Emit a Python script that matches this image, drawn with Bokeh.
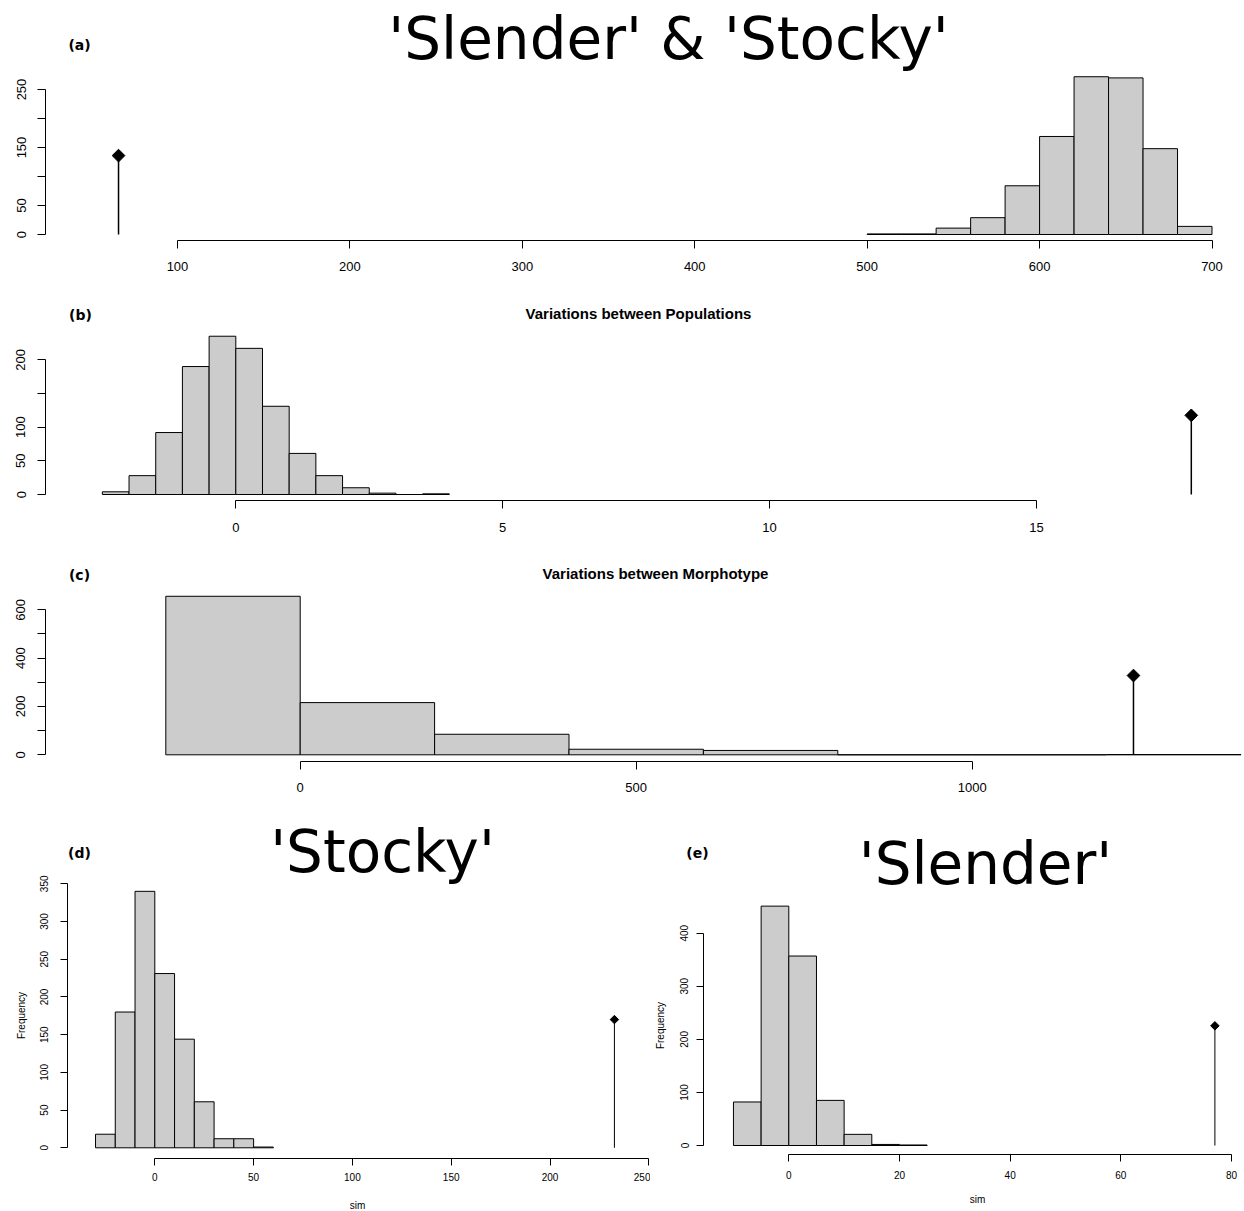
import math
from bokeh.plotting import figure
from bokeh.models import FixedTicker, Range1d, LinearAxis
from bokeh.core.properties import value
from bokeh.layouts import column, row
from bokeh.embed import file_html
from bokeh.resources import INLINE

# ---------------- data ----------------
# (a) 'Slender' & 'Stocky'
a_edges = [500, 520, 540, 560, 580, 600, 620, 640, 660, 680, 700]
a_counts = [1, 1, 11, 29, 84, 169, 272, 270, 148, 14]
a_obs = 65.8
a_xticks = [100, 200, 300, 400, 500, 600, 700]
a_yticks = [0, 50, 100, 150, 200, 250]
a_yhidden = [100, 200]

# (b) Variations between Populations
b_edges = [-2.5, -2.0, -1.5, -1.0, -0.5, 0.0, 0.5, 1.0, 1.5, 2.0, 2.5, 3.0, 3.5, 4.0]
b_counts = [4, 28, 92, 190, 235, 217, 131, 61, 28, 10, 2, 0, 1]
b_obs = 17.9
b_xticks = [0, 5, 10, 15]
b_yticks = [0, 50, 100, 150, 200]
b_yhidden = [150]

# (c) Variations between Morphotype
c_edges = [-200, 0, 200, 400, 600, 800, 1000, 1200, 1400]
c_counts = [656, 216, 85, 23, 18, 0, 0, 1]
c_obs = 1240
c_xticks = [0, 500, 1000]
c_yticks = [0, 100, 200, 300, 400, 500, 600]
c_yhidden = [100, 300, 500]

# (d) 'Stocky'
d_edges = [-30, -20, -10, 0, 10, 20, 30, 40, 50, 60]
d_counts = [18, 180, 340, 231, 144, 61, 12, 12, 1]
d_obs = 232.6
d_xticks = [0, 50, 100, 150, 200, 250]
d_yticks = [0, 50, 100, 150, 200, 250, 300, 350]

# (e) 'Slender'
e_edges = [-10, -5, 0, 5, 10, 15, 20, 25]
e_counts = [82, 451, 357, 85, 21, 2, 1]
e_obs = 77.0
e_xticks = [0, 20, 40, 60, 80]
e_yticks = [0, 100, 200, 300, 400]

TICK_FONT = "Liberation Sans"
BIG_FONT = "DejaVu Sans"


def lin(ref):
    (v1, p1), (v2, p2) = ref
    s = (p2 - p1) / (v2 - v1)
    return lambda p: v1 + (p - p1) / s


def panel(origin, size, axis_px, xref, yref, xticks, yticks, xbounds, ybounds,
          hidden=(), tick_px=13, tick_out=8, xstand=13, ystand=12):
    ox, oy = origin
    w, h = size
    L, B = axis_px
    xinv = lin(xref)
    yinv = lin(yref)
    p = figure(width=w, height=h, output_backend="svg", toolbar_location=None,
               title=None, x_axis_location=None, y_axis_location=None,
               x_range=Range1d(xinv(ox), xinv(ox + w)),
               y_range=Range1d(yinv(oy + h), yinv(oy)),
               min_border=0, min_border_left=0, min_border_right=0,
               min_border_top=0, min_border_bottom=0)
    p.outline_line_color = None
    p.xgrid.visible = False
    p.ygrid.visible = False
    p.background_fill_color = "white"
    p.border_fill_color = "white"
    xa = LinearAxis(fixed_location=yinv(B))
    ya = LinearAxis(fixed_location=xinv(L))
    p.add_layout(xa, "below")
    p.add_layout(ya, "left")
    for ax, ticks, bounds, stand in ((xa, xticks, xbounds, xstand),
                                     (ya, yticks, ybounds, ystand)):
        ax.ticker = FixedTicker(ticks=ticks)
        ax.bounds = bounds
        ax.axis_line_color = "black"
        ax.axis_line_width = 1
        ax.major_tick_line_color = "black"
        ax.major_tick_out = tick_out
        ax.major_tick_in = 0
        ax.minor_tick_line_color = None
        ax.major_label_text_font = TICK_FONT
        ax.major_label_text_font_size = f"{tick_px}px"
        ax.major_label_text_color = "black"
        ax.major_label_standoff = stand
    ya.major_label_orientation = "vertical"
    if hidden:
        ya.major_label_overrides = {v: "" for v in hidden}

    def label(text, px, py, size_px, font, style="normal", angle=0.0):
        p.text(x=[xinv(px)], y=[yinv(py)], text=[text], text_font=value(font),
               text_font_size=value(f"{size_px}px"), text_font_style=style,
               text_align="center", text_baseline="middle", text_color="black",
               angle=angle)
    return p, label


def hist(p, edges, counts, obs, marker_size, stem_w):
    p.quad(left=edges[:-1], right=edges[1:], bottom=[0] * len(counts), top=counts,
           fill_color="#CCCCCC", line_color="black", line_width=1)
    half = max(counts) / 2
    p.segment(x0=[obs], y0=[0], x1=[obs], y1=[half], line_color="black", line_width=stem_w)
    p.scatter(x=[obs], y=[half], marker="square", angle=math.pi / 4, size=marker_size,
              fill_color="black", line_color="black")


# (a)
pa, la = panel((0, 0), (1244, 290), (45, 240),
               ((100, 177), (700, 1211.5)), ((0, 234), (250, 89)),
               a_xticks, a_yticks, (100, 700), (0, 250), hidden=a_yhidden)
hist(pa, a_edges, a_counts, a_obs, 9, 1.5)
la("'Slender' & 'Stocky'", 668, 38, 58, BIG_FONT)
la("(a)", 79, 44, 14, BIG_FONT, style="bold")

# (b)
pb, lb = panel((0, 290), (1244, 255), (45, 500),
               ((0, 235.3), (15, 1036)), ((0, 494), (200, 359.3)),
               b_xticks, b_yticks, (0, 15), (0, 200), hidden=b_yhidden, xstand=14)
hist(pb, b_edges, b_counts, b_obs, 9, 1.5)
lb("Variations between Populations", 638, 313, 15, TICK_FONT, style="bold")
lb("(b)", 80, 314, 14, BIG_FONT, style="bold")

# (c)
pc, lc = panel((0, 545), (1244, 255), (45, 761),
               ((0, 299.7), (1000, 971.7)), ((0, 754.3), (600, 609.3)),
               c_xticks, c_yticks, (0, 1000), (0, 600), hidden=c_yhidden, xstand=13)
hist(pc, c_edges, c_counts, c_obs, 9, 1.5)
lc("Variations between Morphotype", 655, 573, 15, TICK_FONT, style="bold")
lc("(c)", 79, 574, 14, BIG_FONT, style="bold")

# (d)
pd_, ld = panel((0, 800), (650, 411), (67, 1158),
                ((0, 154.3), (250, 648.3)), ((0, 1147.3), (350, 883.3)),
                d_xticks, d_yticks, (0, 250), (0, 350), tick_px=10, tick_out=7,
                xstand=7, ystand=12)
hist(pd_, d_edges, d_counts, d_obs, 6, 1)
ld("'Stocky'", 382, 851, 58, BIG_FONT)
ld("(d)", 79, 852, 14, BIG_FONT, style="bold")
ld("sim", 357, 1205, 10, TICK_FONT)
ld("Frequency", 21, 1015, 10, TICK_FONT, angle=math.pi / 2)

# (e)
pe, le = panel((650, 800), (594, 411), (703, 1154),
               ((0, 788.3), (80, 1231)), ((0, 1145), (400, 932.7)),
               e_xticks, e_yticks, (0, 80), (0, 400), tick_px=10, tick_out=7,
               xstand=9, ystand=8)
hist(pe, e_edges, e_counts, e_obs, 6, 1)
le("'Slender'", 985, 863, 58, BIG_FONT)
le("(e)", 697, 852, 14, BIG_FONT, style="bold")
le("sim", 977, 1199, 10, TICK_FONT)
le("Frequency", 660, 1025, 10, TICK_FONT, angle=math.pi / 2)

layout = column(pa, pb, pc, row(pd_, pe, spacing=0), spacing=0)
open("out.html", "w").write(file_html(layout, INLINE))
